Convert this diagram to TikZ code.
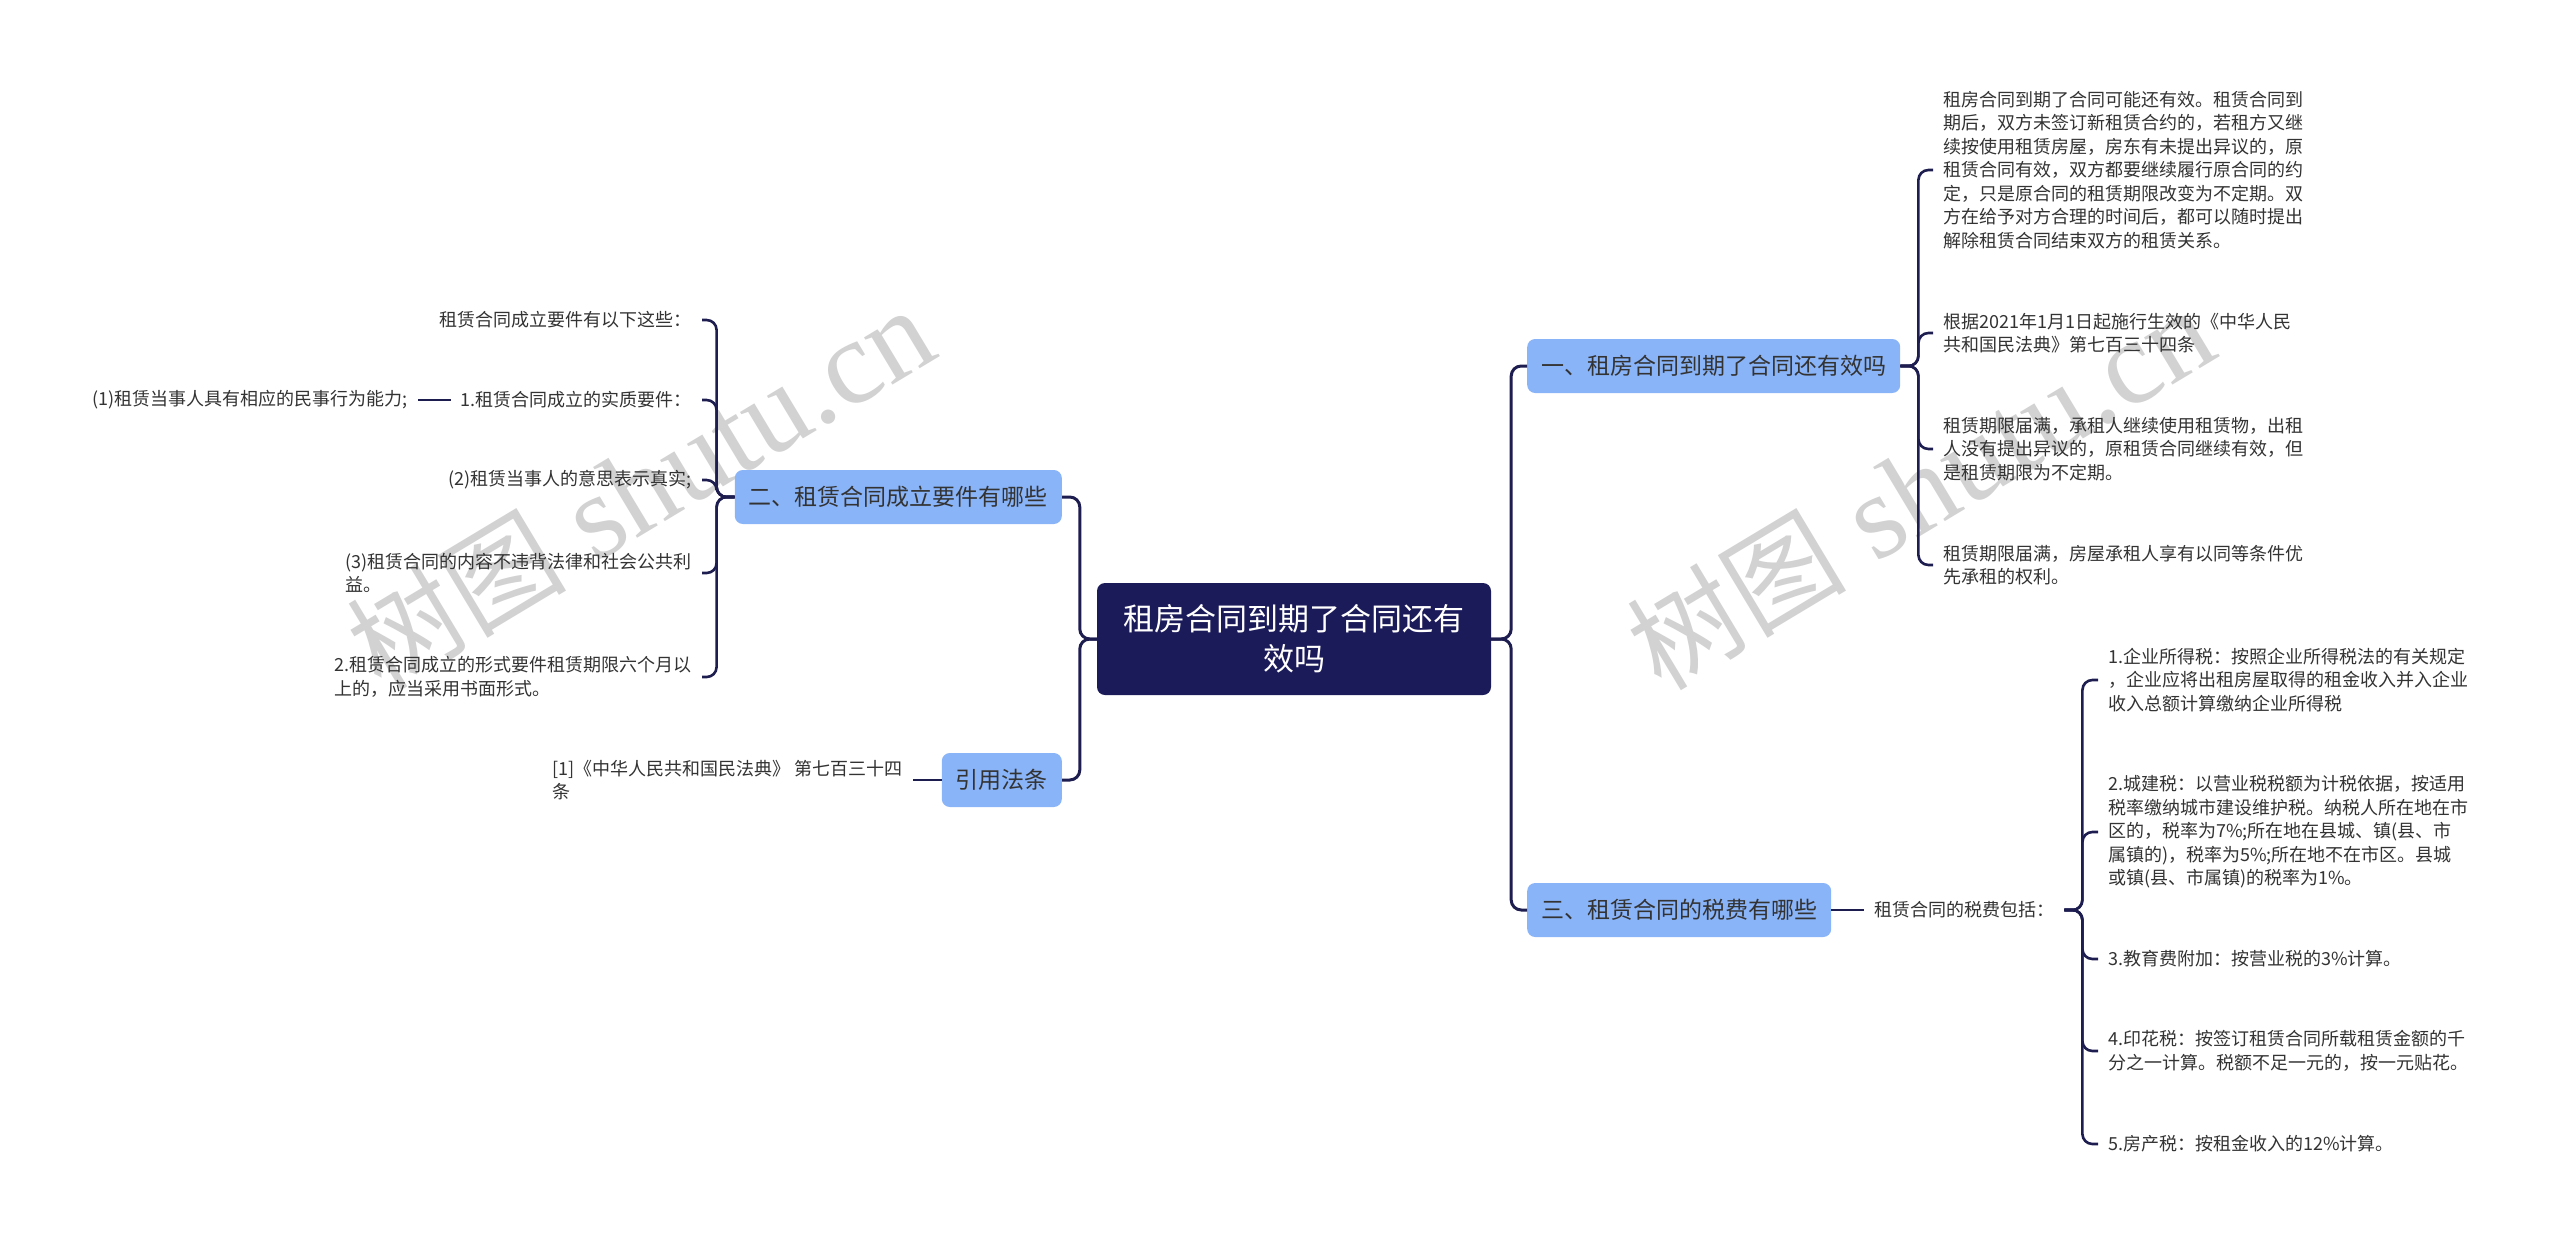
\documentclass[tikz,border=0pt]{standalone}
\usepackage{fontspec}
\setmainfont{Noto Sans CJK SC}
\newfontfamily\wmserif{Liberation Serif}
\definecolor{navy}{RGB}{28,27,90}
\definecolor{connc}{RGB}{30,29,80}
\definecolor{lblue}{RGB}{138,180,248}
\definecolor{txt}{RGB}{51,51,51}
\definecolor{wmc}{RGB}{210,210,210}
\begin{document}
\begin{tikzpicture}[x=1pt,y=-1pt,
  rootbox/.style={fill=navy, text=white, rounded corners=8pt, minimum width=394pt, minimum height=112pt, align=center, font=\fontsize{31}{40}\selectfont, inner sep=0pt},
  topic/.style={fill=lblue, text=txt, rounded corners=8pt, minimum height=54pt, inner xsep=14pt, inner ysep=0pt, font=\fontsize{23}{28}\selectfont},
  leaf/.style={text=txt, align=left, inner xsep=10pt, inner ysep=2pt, font=\fontsize{18}{23.5}\selectfont},
  link/.style={draw=connc, line width=3pt, rounded corners=10pt},
  leaflink/.style={draw=connc, line width=2.6pt, rounded corners=10pt},
  wmark/.style={text=wmc, rotate=31, inner sep=0pt}
]
\fill[white] (0,0) rectangle (2560,1242);
\useasboundingbox (0,0) rectangle (2560,1242);

% watermarks
\node[wmark] (wm1) at (640,488) {{\fontsize{110}{110}\selectfont 树图}\hspace{30pt}{\wmserif\fontsize{120}{120}\selectfont shutu.cn}};
\node[wmark] (wm2) at (1920,488) {{\fontsize{110}{110}\selectfont 树图}\hspace{30pt}{\wmserif\fontsize{120}{120}\selectfont shutu.cn}};

% root
\node[rootbox] (root) at (1294,639) {租房合同到期了合同还有\\效吗};

% level 1
\node[topic, anchor=west] (n1) at (1527,366) {一、租房合同到期了合同还有效吗};
\node[topic, anchor=west] (n3) at (1527,910) {三、租赁合同的税费有哪些};
\node[topic, anchor=east] (n2) at (1062,497) {二、租赁合同成立要件有哪些};
\node[topic, anchor=east] (n4) at (1062,780) {引用法条};

% branch one leaves
\node[leaf, anchor=west] (r1) at (1933,170) {租房合同到期了合同可能还有效。租赁合同到\\期后，双方未签订新租赁合约的，若租方又继\\续按使用租赁房屋，房东有未提出异议的，原\\租赁合同有效，双方都要继续履行原合同的约\\定，只是原合同的租赁期限改变为不定期。双\\方在给予对方合理的时间后，都可以随时提出\\解除租赁合同结束双方的租赁关系。};
\node[leaf, anchor=west] (r2) at (1933,333) {根据2021年1月1日起施行生效的《中华人民\\共和国民法典》第七百三十四条};
\node[leaf, anchor=west] (r3) at (1933,449) {租赁期限届满，承租人继续使用租赁物，出租\\人没有提出异议的，原租赁合同继续有效，但\\是租赁期限为不定期。};
\node[leaf, anchor=west] (r4) at (1933,565) {租赁期限届满，房屋承租人享有以同等条件优\\先承租的权利。};

% branch three leaves
\node[leaf, anchor=west] (t0) at (1864,910) {租赁合同的税费包括：};
\node[leaf, anchor=west] (t1) at (2098,680) {1.企业所得税：按照企业所得税法的有关规定\\，企业应将出租房屋取得的租金收入并入企业\\收入总额计算缴纳企业所得税};
\node[leaf, anchor=west] (t2) at (2098,832) {2.城建税：以营业税税额为计税依据，按适用\\税率缴纳城市建设维护税。纳税人所在地在市\\区的，税率为7\%;所在地在县城、镇(县、市\\属镇的)，税率为5\%;所在地不在市区。县城\\或镇(县、市属镇)的税率为1\%。};
\node[leaf, anchor=west] (t3) at (2098,959) {3.教育费附加：按营业税的3\%计算。};
\node[leaf, anchor=west] (t4) at (2098,1051) {4.印花税：按签订租赁合同所载租赁金额的千\\分之一计算。税额不足一元的，按一元贴花。};
\node[leaf, anchor=west] (t5) at (2098,1144) {5.房产税：按租金收入的12\%计算。};

% branch two leaves
\node[leaf, anchor=east] (l1) at (702,320) {租赁合同成立要件有以下这些：};
\node[leaf, anchor=east] (l2) at (702,400) {1.租赁合同成立的实质要件：};
\node[leaf, anchor=east] (l2a) at ([xshift=-33pt]l2.west) {(1)租赁当事人具有相应的民事行为能力;};
\node[leaf, anchor=east] (l3) at (702,480) {(2)租赁当事人的意思表示真实;};
\node[leaf, anchor=east] (l4) at (702,573) {(3)租赁合同的内容不违背法律和社会公共利\\益。};
\node[leaf, anchor=east] (l5) at (702,677) {2.租赁合同成立的形式要件租赁期限六个月以\\上的，应当采用书面形式。};

% citation leaf
\node[leaf, anchor=east] (c1) at (913,780) {[1]《中华人民共和国民法典》 第七百三十四\\条};

% connectors
\draw[link] (root.west) -- ++(-17,0) |- (n2.east);
\draw[link] (root.west) -- ++(-17,0) |- (n4.east);
\draw[link] (root.east) -- ++(20,0) |- (n1.west);
\draw[link] (root.east) -- ++(20,0) |- (n3.west);
\foreach \c in {r1,r2,r3,r4} \draw[leaflink] (n1.east) -- ++(18,0) |- (\c.west);
\draw[leaflink] (n3.east) -- (t0.west);
\foreach \c in {t1,t2,t3,t4,t5} \draw[leaflink] (t0.east) -- ++(18,0) |- (\c.west);
\foreach \c in {l1,l2,l3,l4,l5} \draw[leaflink] (n2.west) -- ++(-18,0) |- (\c.east);
\draw[leaflink] (l2.west) -- (l2a.east);
\draw[leaflink] (n4.west) -- (c1.east);
\end{tikzpicture}
\end{document}
